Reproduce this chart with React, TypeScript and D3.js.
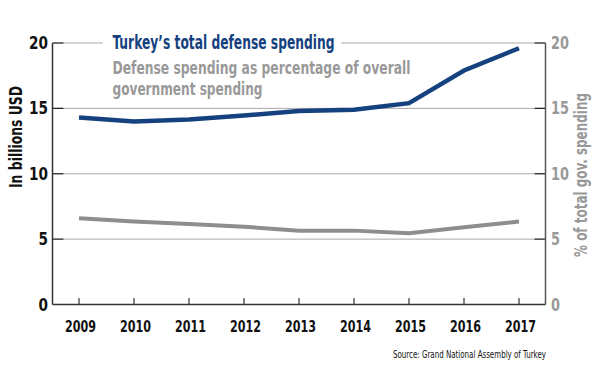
import React from "react";
import * as d3 from "d3";

const years = [2009, 2010, 2011, 2012, 2013, 2014, 2015, 2016, 2017];
const spending = [14.3, 14.0, 14.15, 14.45, 14.8, 14.9, 15.4, 17.9, 19.6];
const percentShare = [6.6, 6.35, 6.15, 5.95, 5.65, 5.65, 5.45, 5.9, 6.35];
const yTicks = [0, 5, 10, 15, 20];

const titleText = "Turkey\u2019s total defense spending";
const subtitleLines = ["Defense spending as percentage of overall", "government spending"];
const leftAxisTitle = "In billions USD";
const rightAxisTitle = "% of total gov. spending";
const sourceText = "Source: Grand National Assembly of Turkey";

const FONT = "'Liberation Sans Narrow', 'DejaVu Sans Condensed', 'Roboto Condensed', Arial, sans-serif";
const NAVY = "#15427f";
const GRAY = "#999999";

export default function App() {
  const W = 600, H = 381;
  const left = 52.5, right = 545.5;
  const x = d3.scaleLinear().domain([2009, 2017]).range([79, 519]);
  const y = d3.scaleLinear().domain([0, 20]).range([304.5, 43]);
  const line = d3.line<number>().x((_, i) => x(years[i])).y((d) => y(d)).curve(d3.curveLinear);

  return (
    <svg width={W} height={H} style={{ position: "absolute", left: 0, top: 0, background: "#fff" }}
      fontFamily={FONT} fontWeight="bold">
      {/* gridlines */}
      {yTicks.filter((t) => t > 0).map((t) => (
        <g key={t}>
          <line x1={left + 11} x2={right - 11} y1={y(t)} y2={y(t)} stroke="#a8a8a8" strokeWidth={1} />
          <line x1={left} x2={left + 11} y1={y(t)} y2={y(t)} stroke="#222" strokeWidth={1.3} />
          <line x1={right - 11} x2={right} y1={y(t)} y2={y(t)} stroke="#222" strokeWidth={1.3} />
        </g>
      ))}
      {/* axes */}
      <line x1={left} x2={left} y1={y(20)} y2={y(0)} stroke="#333" strokeWidth={1.5} />
      <line x1={right} x2={right} y1={y(20)} y2={y(0)} stroke="#555" strokeWidth={1.5} />
      <line x1={left} x2={right} y1={y(0)} y2={y(0)} stroke="#333" strokeWidth={1.5} />
      {years.map((yr) => (
        <line key={yr} x1={x(yr)} x2={x(yr)} y1={y(0)} y2={y(0) - 6.5} stroke="#333" strokeWidth={1.2} />
      ))}
      {/* legend / title block over the top gridline */}
      <rect x={103} y={33} width={238} height={20} fill="#fff" />
      <text x={112.5} y={48.5} fill={NAVY} fontSize={19} textLength={222} lengthAdjust="spacingAndGlyphs">
        {titleText}
      </text>
      <text x={112.5} y={74} fill={GRAY} fontSize={18} textLength={298} lengthAdjust="spacingAndGlyphs">
        {subtitleLines[0]}
      </text>
      <text x={112.5} y={95} fill={GRAY} fontSize={18} textLength={150} lengthAdjust="spacingAndGlyphs">
        {subtitleLines[1]}
      </text>
      {/* series */}
      <path d={line(percentShare) || ""} fill="none" stroke="#8e8e8e" strokeWidth={4} />
      <path d={line(spending) || ""} fill="none" stroke={NAVY} strokeWidth={4.5} />
      {/* left tick labels */}
      {yTicks.map((t) => (
        <text key={"l" + t} x={48} y={y(t) + 6} textAnchor="end" fill="#111" fontSize={17}
          textLength={String(t).length * 9.5} lengthAdjust="spacingAndGlyphs">
          {t}
        </text>
      ))}
      {/* right tick labels */}
      {yTicks.map((t) => (
        <text key={"r" + t} x={551} y={y(t) + 6} textAnchor="start" fill={GRAY} fontSize={17}
          textLength={String(t).length * 9} lengthAdjust="spacingAndGlyphs">
          {t}
        </text>
      ))}
      {/* x labels */}
      {years.map((yr) => (
        <text key={"x" + yr} x={x(yr) + 1.5} y={332} textAnchor="middle" fill="#111" fontSize={15}
          textLength={31} lengthAdjust="spacingAndGlyphs">
          {yr}
        </text>
      ))}
      {/* axis titles */}
      <text transform={`translate(22,137) rotate(-90)`} textAnchor="middle" fill="#111" fontSize={18}
        textLength={102} lengthAdjust="spacingAndGlyphs">
        {leftAxisTitle}
      </text>
      <text transform={`translate(587,175) rotate(-90)`} textAnchor="middle" fill={GRAY} fontSize={17}
        textLength={164} lengthAdjust="spacingAndGlyphs">
        {rightAxisTitle}
      </text>
      {/* source */}
      <text x={546} y={358} textAnchor="end" fill="#111" fontSize={10} fontWeight="normal"
        textLength={153} lengthAdjust="spacingAndGlyphs">
        {sourceText}
      </text>
    </svg>
  );
}
